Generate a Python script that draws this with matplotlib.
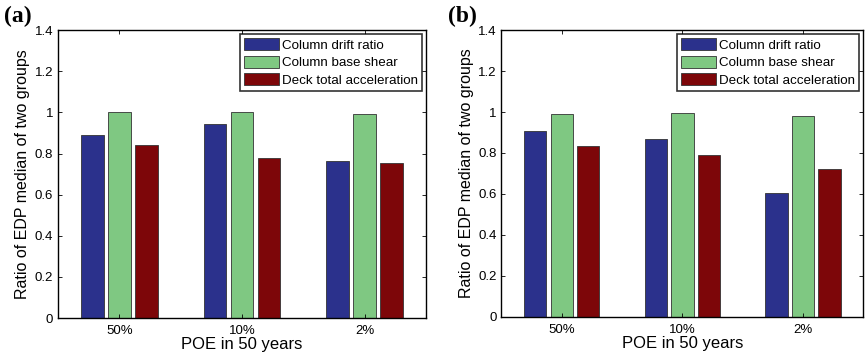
import matplotlib
matplotlib.use("Agg")
import matplotlib.pyplot as plt
import numpy as np
from matplotlib.ticker import FormatStrFormatter

# data
groups = ["50%", "10%", "2%"]
series = ["Column drift ratio", "Column base shear", "Deck total acceleration"]
panel_a = {
    "Column drift ratio": [0.89, 0.944, 0.763],
    "Column base shear": [1.003, 1.003, 0.993],
    "Deck total acceleration": [0.844, 0.779, 0.752],
}
panel_b = {
    "Column drift ratio": [0.905, 0.868, 0.605],
    "Column base shear": [0.991, 0.995, 0.981],
    "Deck total acceleration": [0.832, 0.79, 0.72],
}
colors = ["#2b318c", "#7fc882", "#7d0609"]

plt.rcParams['font.family'] = ['Liberation Sans', 'DejaVu Sans']

fig = plt.figure(figsize=(8.66, 3.59), dpi=100)
ax_a = fig.add_axes([0.067, 0.114, 0.425, 0.802])
ax_b = fig.add_axes([0.579, 0.118, 0.418, 0.798])

x = np.arange(1, len(groups) + 1)
width = 0.185
offsets = [-0.22, 0.0, 0.22]

for ax, data, tag in [(ax_a, panel_a, "(a)"), (ax_b, panel_b, "(b)")]:
    for i, name in enumerate(series):
        ax.bar(x + offsets[i], data[name], width, color=colors[i],
               edgecolor="#333333", linewidth=0.6, label=name)
    ax.set_xlim(0.5, 3.5)
    ax.set_ylim(0, 1.4)
    ax.set_xticks(x)
    ax.set_xticklabels(groups)
    ax.set_yticks(np.arange(0, 1.41, 0.2))
    ax.yaxis.set_major_formatter(FormatStrFormatter('%g'))
    ax.tick_params(direction='in', top=True, right=True, length=3,
                   labelsize=9.5, width=0.6)
    ax.tick_params(axis='x', pad=5)
    for s in ax.spines.values():
        s.set_linewidth(1.0)
    ax.set_xlabel("POE in 50 years", fontsize=12, labelpad=0)
    ax.set_ylabel("Ratio of EDP median of two groups", fontsize=11.5, labelpad=3)
    leg = ax.legend(loc='upper right', fontsize=9.6, frameon=True, fancybox=False,
                    edgecolor='black', handlelength=2.6, handleheight=1.0,
                    handletextpad=0.25, borderpad=0.3, labelspacing=0.3,
                    borderaxespad=0.3)
    leg.get_frame().set_linewidth(1.2)
    pos = ax.get_position()
    fig.text(pos.x0 - 0.062, 0.985, tag, fontsize=17, fontweight='bold',
             family='Liberation Serif', va='top')

fig.savefig("out.png", dpi=100)
